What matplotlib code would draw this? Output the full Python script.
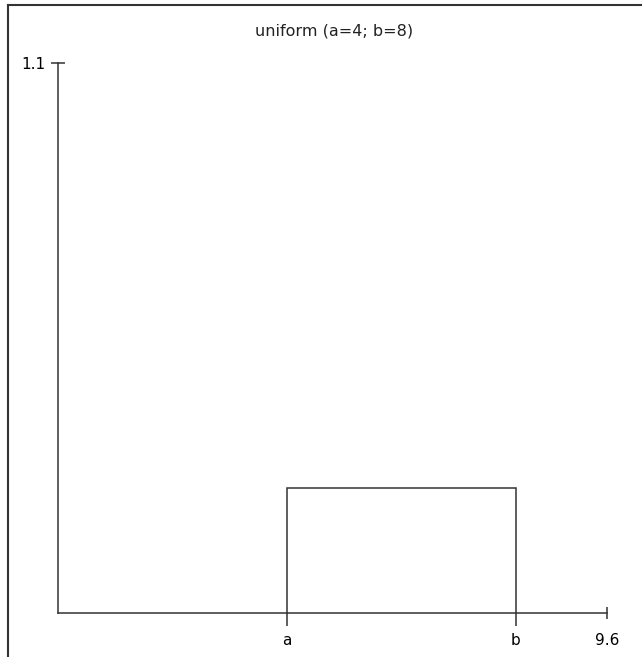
import matplotlib
matplotlib.use("Agg")
import matplotlib.pyplot as plt
from matplotlib.lines import Line2D

# uniform distribution parameters
a = 4
b = 8
x_max = 9.6
y_max = 1.1
density = 1.0 / (b - a)

x_tick_pos = [a, b]
x_tick_labels = ["a", "b"]

LINE_COL = "#333333"

fig = plt.figure(figsize=(6.42, 6.57), dpi=100)
W, H = 642, 657
ax = fig.add_axes([58 / W, (H - 613) / H, (607 - 58) / W, (613 - 63) / H])

# pdf outline
ax.plot([a, a, b, b], [0, density, density, 0], color=LINE_COL, lw=1.1,
        clip_on=False, solid_joinstyle="miter")

ax.set_xlim(0, x_max)
ax.set_ylim(0, y_max)

for s in ["top", "right"]:
    ax.spines[s].set_visible(False)
for s in ["left", "bottom"]:
    ax.spines[s].set_color(LINE_COL)
    ax.spines[s].set_linewidth(1.1)

ax.set_xticks(x_tick_pos)
ax.set_xticklabels(x_tick_labels)
ax.set_xticks([x_max], minor=True)
ax.set_xticklabels(["9.6"], minor=True)
ax.set_yticks([y_max])
ax.set_yticklabels(["1.1"])

ax.tick_params(axis="x", which="major", direction="out", length=9.3, width=1.1,
               color=LINE_COL, pad=5.4, labelsize=11)
ax.tick_params(axis="x", which="minor", direction="inout", length=8.6, width=1.1,
               color=LINE_COL, pad=9.8, labelsize=11)
ax.tick_params(axis="y", which="major", direction="inout", length=9.4, width=1.1,
               color=LINE_COL, pad=4.3, labelsize=11)

fig.text(0.521, 1 - 30.8 / H, "uniform (a=4; b=8)", ha="center", va="center",
         fontsize=11.5, color="#222222")

# outer frame (top and left edges)
fig.add_artist(Line2D([8 / W, 1], [1 - 4.7 / H, 1 - 4.7 / H], color="#333333",
                      lw=1.5, transform=fig.transFigure))
fig.add_artist(Line2D([8 / W, 8 / W], [0, 1 - 4.7 / H], color="#333333",
                      lw=1.5, transform=fig.transFigure))

fig.savefig("out.png", dpi=100)
